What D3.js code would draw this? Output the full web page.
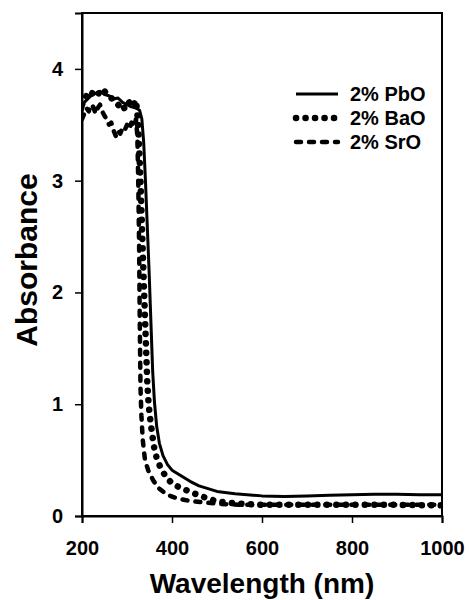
<!DOCTYPE html>
<html lang="en">
<head>
    <meta charset="UTF-8">
    <title>Absorbance vs Wavelength</title>
    <style>
        body { margin: 0; padding: 0; background: #fff; }
        svg { display: block; }
        text { font-family: "Liberation Sans", Arial, sans-serif; font-weight: bold; fill: #000; }
    </style>
</head>
<body>
    <div id="chart"></div>

    <script src="https://d3js.org/d3.v7.min.js"></script>
    <script>
        // Data
        const pboWl = [200,205,210,220,230,240,250,260,270,280,290,300,310,320,328,333,337,341,345,349,353,357,361,366,372,380,390,400,420,440,460,500,540,600,650,700,750,800,850,900,950,1000];
        const pboAbs = [3.62,3.70,3.72,3.76,3.78,3.80,3.77,3.76,3.73,3.74,3.70,3.68,3.66,3.65,3.63,3.55,3.35,3.0,2.6,2.2,1.75,1.3,1.02,0.8,0.65,0.54,0.46,0.41,0.36,0.31,0.27,0.22,0.2,0.18,0.175,0.18,0.185,0.19,0.195,0.195,0.19,0.19];

        const baoWl = [200,205,210,215,220,225,230,235,240,245,250,255,260,265,270,275,280,285,290,295,300,305,310,315,320,323,326,330,334,338,342,345,348,352,356,360,367,375,385,400,420,444,470,500,550,600,700,800,900,1000];
        const baoAbs = [3.68,3.72,3.76,3.78,3.76,3.80,3.78,3.77,3.80,3.82,3.80,3.78,3.76,3.74,3.72,3.70,3.68,3.66,3.68,3.64,3.66,3.70,3.66,3.68,3.72,3.6,3.4,3.0,2.5,2.0,1.55,1.2,1.0,0.85,0.73,0.62,0.5,0.43,0.36,0.29,0.25,0.21,0.17,0.13,0.11,0.1,0.1,0.1,0.1,0.095];

        const sroWl = [200,205,210,215,220,225,230,235,240,245,250,255,260,265,270,275,280,285,290,295,300,305,310,315,320,323,325,327,328,329,330,332,335,340,347,358,370,389,410,433,462,500,550,600,700,800,900,1000];
        const sroAbs = [3.55,3.6,3.65,3.62,3.68,3.66,3.6,3.65,3.68,3.62,3.58,3.55,3.5,3.52,3.45,3.4,3.45,3.42,3.47,3.45,3.5,3.46,3.52,3.48,3.55,3.4,3.0,2.4,1.9,1.5,1.15,0.9,0.68,0.5,0.41,0.32,0.25,0.19,0.16,0.14,0.125,0.11,0.1,0.1,0.1,0.1,0.1,0.1];

        const seriesNames = ["2% PbO", "2% BaO", "2% SrO"];
        const xTicks = [200, 400, 600, 800, 1000];
        const yTicks = [0, 1, 2, 3, 4];

        const width = 469, height = 600;
        const margin = { top: 13, right: 27, bottom: 84, left: 82 };

        const svg = d3.select("#chart").append("svg")
            .attr("width", width)
            .attr("height", height);

        const x = d3.scaleLinear().domain([200, 1000]).range([margin.left, width - margin.right]);
        const y = d3.scaleLinear().domain([0, 4.5]).range([height - margin.bottom, margin.top]);

        // line styles: solid, dotted, dashed
        const styles = [
            { width: 3, dash: null, cap: "butt" },
            { width: 6.5, dash: "0.1 9.4", cap: "round" },
            { width: 4.5, dash: "5 8", cap: "round" }
        ];

        const series = [
            pboWl.map((w, i) => [w, pboAbs[i]]),
            baoWl.map((w, i) => [w, baoAbs[i]]),
            sroWl.map((w, i) => [w, sroAbs[i]])
        ];

        const line = d3.line().x(d => x(d[0])).y(d => y(d[1]));

        svg.append("defs").append("clipPath").attr("id", "clip")
            .append("rect")
            .attr("x", margin.left).attr("y", margin.top)
            .attr("width", width - margin.left - margin.right)
            .attr("height", height - margin.top - margin.bottom);

        const plot = svg.append("g").attr("clip-path", "url(#clip)");
        series.forEach((s, i) => {
            plot.append("path")
                .datum(s)
                .attr("fill", "none")
                .attr("stroke", "#000")
                .attr("stroke-width", styles[i].width)
                .attr("stroke-linecap", styles[i].cap)
                .attr("stroke-linejoin", "round")
                .attr("stroke-dasharray", styles[i].dash)
                .attr("d", line);
        });

        // frame
        svg.append("rect")
            .attr("x", margin.left).attr("y", margin.top)
            .attr("width", width - margin.left - margin.right)
            .attr("height", height - margin.top - margin.bottom)
            .attr("fill", "none").attr("stroke", "#000").attr("stroke-width", 2);

        // axes
        const xAxis = svg.append("g")
            .attr("transform", `translate(0,${height - margin.bottom})`)
            .call(d3.axisBottom(x).tickValues(xTicks).tickFormat(d3.format("d")).tickSize(7).tickPadding(18));
        const yAxis = svg.append("g")
            .attr("transform", `translate(${margin.left},0)`)
            .call(d3.axisLeft(y).tickValues(yTicks).tickFormat(d3.format("d")).tickSize(7).tickPadding(12));

        [xAxis, yAxis].forEach(a => {
            a.select(".domain").attr("stroke-width", 2);
            a.selectAll(".tick line").attr("stroke-width", 1.5);
            a.selectAll(".tick text").attr("font-size", 20)
                .attr("font-family", "'Liberation Sans', Arial, sans-serif")
                .attr("font-weight", "bold");
        });

        // axis titles
        svg.append("text")
            .attr("x", (margin.left + width - margin.right) / 2)
            .attr("y", 593)
            .attr("text-anchor", "middle")
            .attr("font-size", 28)
            .text("Wavelength (nm)");

        svg.append("text")
            .attr("transform", "translate(37,260) rotate(-90)")
            .attr("text-anchor", "middle")
            .attr("font-size", 30)
            .text("Absorbance");

        // legend
        const legend = svg.append("g");
        const legendY = [94, 118, 142];
        seriesNames.forEach((name, i) => {
            legend.append("line")
                .attr("x1", 296).attr("x2", 338)
                .attr("y1", legendY[i]).attr("y2", legendY[i])
                .attr("stroke", "#000")
                .attr("stroke-width", styles[i].width)
                .attr("stroke-linecap", styles[i].cap)
                .attr("stroke-dasharray", styles[i].dash);
            legend.append("text")
                .attr("x", 350)
                .attr("y", legendY[i])
                .attr("dy", "0.35em")
                .attr("font-size", 20)
                .text(name);
        });
    </script>
</body>
</html>
